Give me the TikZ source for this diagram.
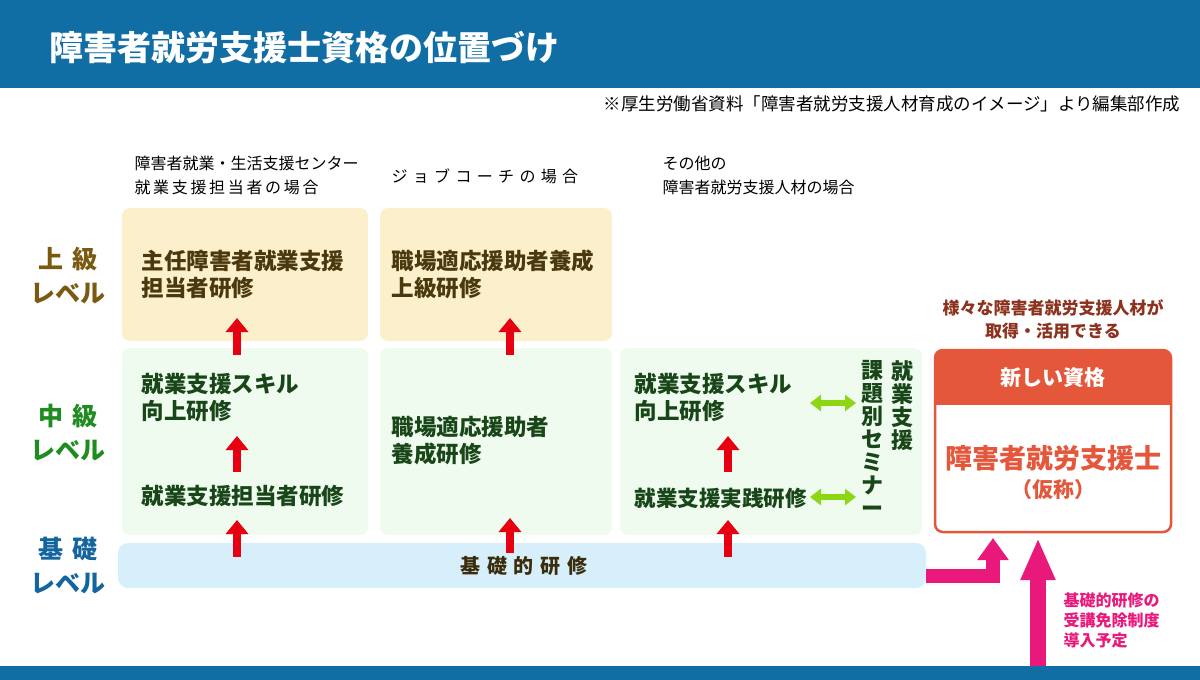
\documentclass[tikz,border=0pt]{standalone}
\usepackage{fontspec}
\setmainfont{Noto Sans CJK JP}
\usetikzlibrary{arrows.meta}
\definecolor{hdr}{RGB}{16,110,165}
\definecolor{upfill}{RGB}{252,239,204}
\definecolor{midfill}{RGB}{238,251,238}
\definecolor{basefill}{RGB}{214,239,251}
\definecolor{brownt}{RGB}{74,56,14}
\definecolor{brownl}{RGB}{122,90,16}
\definecolor{greent}{RGB}{24,70,24}
\definecolor{greenl}{RGB}{30,140,30}
\definecolor{bluel}{RGB}{20,100,160}
\definecolor{orng}{RGB}{228,87,58}
\definecolor{pinkc}{RGB}{232,25,122}
\definecolor{redc}{RGB}{230,0,18}
\definecolor{limec}{RGB}{140,214,20}
\definecolor{notec}{RGB}{140,50,30}
\begin{document}
\begin{tikzpicture}[x=1pt,y=-1pt,
  redarrow/.style={draw=redc,line width=8pt,-{Triangle[width=22pt,length=14pt]}},
  dblarrow/.style={draw=limec,line width=6pt,{Triangle[width=16pt,length=11pt]}-{Triangle[width=16pt,length=11pt]}},
  pinkarrow/.style={draw=pinkc,line width=14pt,-{Triangle[width=30pt,length=22pt]}},
  boxt/.style={font=\fontsize{22.5}{27}\selectfont\bfseries,align=left,anchor=west},
  hd/.style={font=\fontsize{16}{24}\selectfont,align=left,anchor=west},
  lvl/.style={font=\fontsize{25}{34}\selectfont\bfseries,align=center},
  vert/.style={font=\fontsize{22}{23}\selectfont\bfseries,text=greent,align=center,anchor=north}]
\useasboundingbox (0,0) rectangle (1200,680);
\fill[hdr] (0,0) rectangle (1200,88);
\fill[hdr] (0,666) rectangle (1200,680);
\node[anchor=west,text=white,font=\fontsize{34}{38}\selectfont\bfseries] (title) at (46,48) {障害者就労支援士資格の位置づけ};
\node[anchor=east,font=\fontsize{17.5}{20}\selectfont] (note) at (1184,104) {※厚生労働省資料「障害者就労支援人材育成のイメージ」より編集部作成};
% column headers
\node[hd] (h1) at (131,175) {障害者就業・生活支援センター\\就\,業\,支\,援\,担\,当\,者\,の\,場\,合};
\node[hd] (h2) at (388,176) {ジ\,\,ョ\,\,ブ\,\,コ\,\,ー\,\,チ\,\,の\,\,場\,\,合};
\node[hd] (h3) at (659,175) {その他の\\障害者就労支援人材の場合};
% boxes
\fill[upfill,rounded corners=8pt] (122,208) rectangle (368,341);
\fill[upfill,rounded corners=8pt] (380,208) rectangle (612,341);
\fill[midfill,rounded corners=8pt] (122,348) rectangle (368,535);
\fill[midfill,rounded corners=8pt] (380,348) rectangle (612,535);
\fill[midfill,rounded corners=8pt] (620,348) rectangle (922,535);
\fill[basefill,rounded corners=10pt] (118,543) rectangle (926,588);
\node[font=\fontsize{20}{22}\selectfont\bfseries,text=brownt!80!black] (base) at (524,566) {基\,\,礎\,\,的\,\,研\,\,修};
% level labels
\node[lvl,text=brownl] (l1) at (68,276) {上\,\,級\\レベル};
\node[lvl,text=greenl] (l2) at (68,433) {中\,\,級\\レベル};
\node[lvl,text=bluel] (l3) at (68,566) {基\,\,礎\\レベル};
% texts
\node[boxt,text=brownt] (a1) at (138,274) {主任障害者就業支援\\担当者研修};
\node[boxt,text=brownt] (a2) at (388,274) {職場適応援助者養成\\上級研修};
\node[boxt,text=greent] (b1) at (138,398) {就業支援スキル\\向上研修};
\node[boxt,text=greent] (c1) at (138,496) {就業支援担当者研修};
\node[boxt,text=greent] (b2) at (388,441) {職場適応援助者\\養成研修};
\node[boxt,text=greent] (b3) at (631,398) {就業支援スキル\\向上研修};
\node[boxt,text=greent,font=\fontsize{21.5}{26}\selectfont\bfseries] (c3) at (631,498) {就業支援実践研修};
% vertical texts
\node[vert] (v1) at (902,357) {就\\業\\支\\援};
\node[vert] (v2) at (872,357) {課\\題\\別\\セ\\ミ\\ナ\\ー};
% red arrows
\coordinate (r1s) at (237,355); \coordinate (r1e) at (237,318);
\coordinate (r2s) at (237,472); \coordinate (r2e) at (237,436);
\coordinate (r3s) at (237,557); \coordinate (r3e) at (237,520);
\coordinate (r4s) at (510,355); \coordinate (r4e) at (510,318);
\coordinate (r5s) at (510,553); \coordinate (r5e) at (510,518);
\coordinate (r6s) at (728,472); \coordinate (r6e) at (728,436);
\coordinate (r7s) at (728,557); \coordinate (r7e) at (728,520);
\foreach \i in {1,...,7}{\draw[redarrow] (r\i s) -- (r\i e);}
% green double arrows
\coordinate (g1a) at (810,403); \coordinate (g1b) at (856,403);
\coordinate (g2a) at (810,497); \coordinate (g2b) at (856,497);
\draw[dblarrow] (g1a) -- (g1b);
\draw[dblarrow] (g2a) -- (g2b);
% new qualification box
\draw[orng,line width=2.5pt,rounded corners=8pt,fill=white] (935,350) rectangle (1171,532);
\fill[orng,rounded corners=8pt] (935,350) rectangle (1171,390);
\fill[orng] (935,380) rectangle (1171,405);
\node[text=white,font=\fontsize{21}{24}\selectfont\bfseries] (nq) at (1053,378) {新しい資格};
\node[text=orng,font=\fontsize{27}{30}\selectfont\bfseries] (q1) at (1053,458) {障害者就労支援士};
\node[text=orng,font=\fontsize{21}{24}\selectfont\bfseries] (q2) at (1053,490) {（仮称）};
\node[text=notec,font=\fontsize{17}{23}\selectfont\bfseries,align=center] (top) at (1053,319) {様々な障害者就労支援人材が\\取得・活用できる};
% pink arrows
\coordinate (p1s) at (926,576); \coordinate (p1m) at (993,576); \coordinate (p1e) at (993,538);
\draw[pinkarrow] (p1s) -- (p1m) -- (p1e);
\coordinate (p2s) at (1038,666); \coordinate (p2e) at (1038,538);
\draw[pinkarrow,line width=16pt,-{Triangle[width=32pt,length=42pt]}] (p2s) -- (p2e);
\node[anchor=west,text=pinkc,font=\fontsize{16}{20}\selectfont\bfseries,align=left] (pt) at (1060,620) {基礎的研修の\\受講免除制度\\導入予定};
\end{tikzpicture}
\end{document}
